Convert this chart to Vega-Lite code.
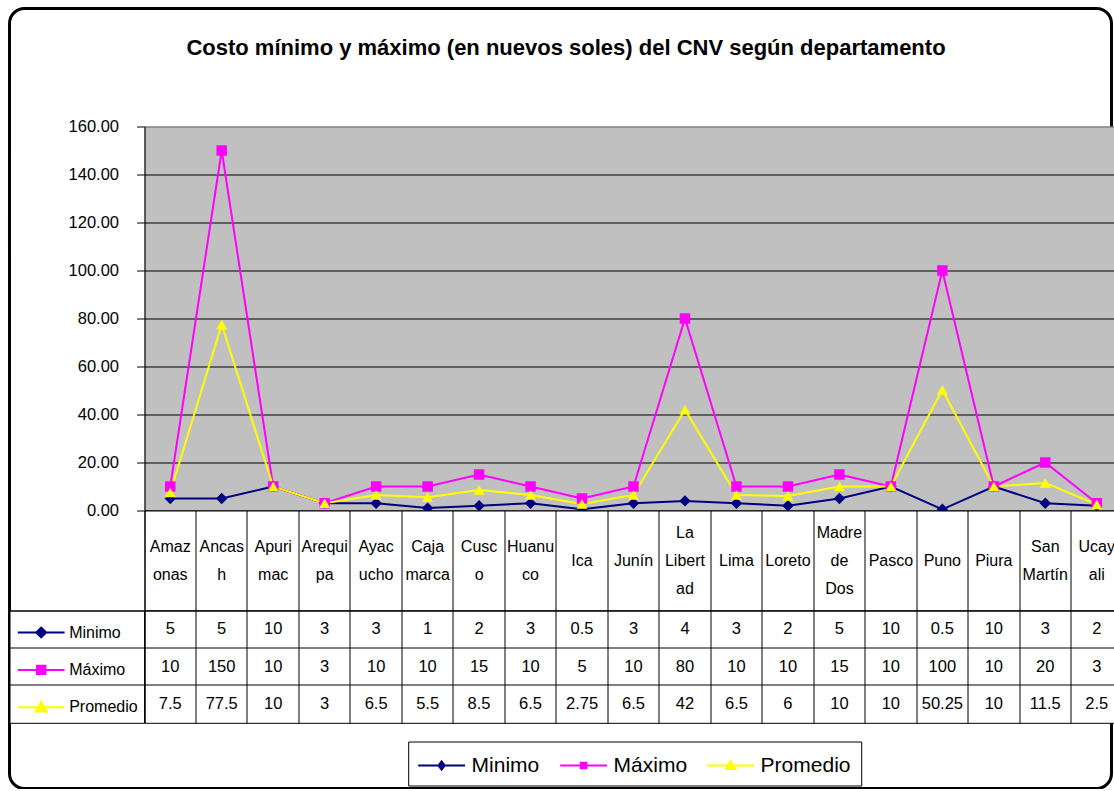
{
  "$schema": "https://vega.github.io/schema/vega-lite/v6.json",
  "background": "white",
  "padding": {"left": 8.5, "top": 8.5, "right": 0, "bottom": 0},
  "params": [
    {"name": "width", "value": 1102},
    {"name": "height", "value": 780}
  ],
  "title": {
    "text": "Costo mínimo y máximo (en nuevos soles) del CNV según departamento",
    "fontSize": 22, "fontWeight": "bold", "color": "black",
    "anchor": "middle", "baseline": "bottom", "offset": -73
  },
  "config": {
    "font": "Liberation Sans, Arial, sans-serif",
    "view": {"stroke": "black"},
    "group": {"stroke": "black", "strokeWidth": 3, "cornerRadius": 15}
  },
  "datasets": {
    "departamentos": [
      {"departamento": "Amazonas", "etiqueta": ["Amaz", "onas"]},
      {"departamento": "Ancash", "etiqueta": ["Ancas", "h"]},
      {"departamento": "Apurimac", "etiqueta": ["Apuri", "mac"]},
      {"departamento": "Arequipa", "etiqueta": ["Arequi", "pa"]},
      {"departamento": "Ayacucho", "etiqueta": ["Ayac", "ucho"]},
      {"departamento": "Cajamarca", "etiqueta": ["Caja", "marca"]},
      {"departamento": "Cusco", "etiqueta": ["Cusc", "o"]},
      {"departamento": "Huanuco", "etiqueta": ["Huanu", "co"]},
      {"departamento": "Ica", "etiqueta": ["Ica"]},
      {"departamento": "Junín", "etiqueta": ["Junín"]},
      {"departamento": "La Libertad", "etiqueta": ["La", "Libert", "ad"]},
      {"departamento": "Lima", "etiqueta": ["Lima"]},
      {"departamento": "Loreto", "etiqueta": ["Loreto"]},
      {"departamento": "Madre de Dos", "etiqueta": ["Madre", "de", "Dos"]},
      {"departamento": "Pasco", "etiqueta": ["Pasco"]},
      {"departamento": "Puno", "etiqueta": ["Puno"]},
      {"departamento": "Piura", "etiqueta": ["Piura"]},
      {"departamento": "San Martín", "etiqueta": ["San", "Martín"]},
      {"departamento": "Ucayali", "etiqueta": ["Ucay", "ali"]}
    ],
    "valores": [
      {"departamento": "Amazonas", "serie": "Minimo", "valor": 5},
      {"departamento": "Ancash", "serie": "Minimo", "valor": 5},
      {"departamento": "Apurimac", "serie": "Minimo", "valor": 10},
      {"departamento": "Arequipa", "serie": "Minimo", "valor": 3},
      {"departamento": "Ayacucho", "serie": "Minimo", "valor": 3},
      {"departamento": "Cajamarca", "serie": "Minimo", "valor": 1},
      {"departamento": "Cusco", "serie": "Minimo", "valor": 2},
      {"departamento": "Huanuco", "serie": "Minimo", "valor": 3},
      {"departamento": "Ica", "serie": "Minimo", "valor": 0.5},
      {"departamento": "Junín", "serie": "Minimo", "valor": 3},
      {"departamento": "La Libertad", "serie": "Minimo", "valor": 4},
      {"departamento": "Lima", "serie": "Minimo", "valor": 3},
      {"departamento": "Loreto", "serie": "Minimo", "valor": 2},
      {"departamento": "Madre de Dos", "serie": "Minimo", "valor": 5},
      {"departamento": "Pasco", "serie": "Minimo", "valor": 10},
      {"departamento": "Puno", "serie": "Minimo", "valor": 0.5},
      {"departamento": "Piura", "serie": "Minimo", "valor": 10},
      {"departamento": "San Martín", "serie": "Minimo", "valor": 3},
      {"departamento": "Ucayali", "serie": "Minimo", "valor": 2},
      {"departamento": "Amazonas", "serie": "Máximo", "valor": 10},
      {"departamento": "Ancash", "serie": "Máximo", "valor": 150},
      {"departamento": "Apurimac", "serie": "Máximo", "valor": 10},
      {"departamento": "Arequipa", "serie": "Máximo", "valor": 3},
      {"departamento": "Ayacucho", "serie": "Máximo", "valor": 10},
      {"departamento": "Cajamarca", "serie": "Máximo", "valor": 10},
      {"departamento": "Cusco", "serie": "Máximo", "valor": 15},
      {"departamento": "Huanuco", "serie": "Máximo", "valor": 10},
      {"departamento": "Ica", "serie": "Máximo", "valor": 5},
      {"departamento": "Junín", "serie": "Máximo", "valor": 10},
      {"departamento": "La Libertad", "serie": "Máximo", "valor": 80},
      {"departamento": "Lima", "serie": "Máximo", "valor": 10},
      {"departamento": "Loreto", "serie": "Máximo", "valor": 10},
      {"departamento": "Madre de Dos", "serie": "Máximo", "valor": 15},
      {"departamento": "Pasco", "serie": "Máximo", "valor": 10},
      {"departamento": "Puno", "serie": "Máximo", "valor": 100},
      {"departamento": "Piura", "serie": "Máximo", "valor": 10},
      {"departamento": "San Martín", "serie": "Máximo", "valor": 20},
      {"departamento": "Ucayali", "serie": "Máximo", "valor": 3},
      {"departamento": "Amazonas", "serie": "Promedio", "valor": 7.5},
      {"departamento": "Ancash", "serie": "Promedio", "valor": 77.5},
      {"departamento": "Apurimac", "serie": "Promedio", "valor": 10},
      {"departamento": "Arequipa", "serie": "Promedio", "valor": 3},
      {"departamento": "Ayacucho", "serie": "Promedio", "valor": 6.5},
      {"departamento": "Cajamarca", "serie": "Promedio", "valor": 5.5},
      {"departamento": "Cusco", "serie": "Promedio", "valor": 8.5},
      {"departamento": "Huanuco", "serie": "Promedio", "valor": 6.5},
      {"departamento": "Ica", "serie": "Promedio", "valor": 2.75},
      {"departamento": "Junín", "serie": "Promedio", "valor": 6.5},
      {"departamento": "La Libertad", "serie": "Promedio", "valor": 42},
      {"departamento": "Lima", "serie": "Promedio", "valor": 6.5},
      {"departamento": "Loreto", "serie": "Promedio", "valor": 6},
      {"departamento": "Madre de Dos", "serie": "Promedio", "valor": 10},
      {"departamento": "Pasco", "serie": "Promedio", "valor": 10},
      {"departamento": "Puno", "serie": "Promedio", "valor": 50.25},
      {"departamento": "Piura", "serie": "Promedio", "valor": 10},
      {"departamento": "San Martín", "serie": "Promedio", "valor": 11.5},
      {"departamento": "Ucayali", "serie": "Promedio", "valor": 2.5}
    ]
  },
  "columns": 2,
  "align": "each",
  "bounds": "flush",
  "spacing": 0,
  "resolve": {
    "scale": {"x": "independent", "y": "independent", "color": "independent", "shape": "independent"},
    "legend": {"color": "independent", "shape": "independent"}
  },
  "concat": [
    {
      "width": 134.6, "height": 117.7,
      "data": {"values": []},
      "view": {"stroke": null},
      "mark": {"type": "point", "opacity": 0}
    },
    {
      "width": 978, "height": 117.7,
      "data": {"values": []},
      "view": {"stroke": null},
      "mark": {"type": "point", "opacity": 0}
    },
    {
      "width": 134.6, "height": 384,
      "data": {"values": []},
      "view": {"stroke": null},
      "mark": {"type": "point", "opacity": 0}
    },
    {
      "width": 978,
      "height": 384,
      "data": {"name": "valores"},
      "view": {"fill": "#C0C0C0", "stroke": "#808080"},
      "encoding": {
        "x": {"field": "departamento", "type": "nominal", "sort": null,
              "scale": {"type": "band", "paddingInner": 0, "paddingOuter": 0}, "axis": null},
        "y": {"field": "valor", "type": "quantitative",
              "scale": {"domain": [0, 160], "nice": false},
              "axis": {"values": [0, 20, 40, 60, 80, 100, 120, 140, 160], "format": ".2f", "title": null,
                       "grid": true,
                       "gridColor": {"condition": {"test": "datum.value === 160", "value": "#808080"}, "value": "black"},
                       "gridOpacity": 1, "gridWidth": 1.2,
                       "tickSize": 8, "tickColor": "black", "domainColor": "black",
                       "labelFontSize": 16.5, "labelColor": "black", "labelPadding": 18}}
      },
      "layer": [
        {"mark": {"type": "line", "strokeWidth": 2},
         "encoding": {"color": {"field": "serie", "type": "nominal",
                  "scale": {"domain": ["Minimo", "Máximo", "Promedio"], "range": ["#000080", "#FF00FF", "#FFFF00"]}}}},
        {"transform": [{"filter": "datum.serie === 'Minimo'"}],
         "mark": {"type": "point", "shape": "diamond", "filled": true, "size": 130, "opacity": 1},
         "encoding": {"color": {"field": "serie", "type": "nominal"}}},
        {"transform": [{"filter": "datum.serie === 'Máximo'"}],
         "mark": {"type": "point", "shape": "square", "filled": true, "size": 110, "opacity": 1},
         "encoding": {"color": {"field": "serie", "type": "nominal"}}},
        {"transform": [{"filter": "datum.serie === 'Promedio'"}],
         "mark": {"type": "point", "shape": "triangle-up", "filled": true, "size": 120, "opacity": 1},
         "encoding": {"color": {"field": "serie", "type": "nominal"}}},
        {"mark": {"type": "point", "filled": false, "opacity": 0},
         "encoding": {
           "color": {"field": "serie", "type": "nominal",
                     "legend": {
                       "orient": "none", "legendX": 263.7, "legendY": 615, "direction": "horizontal",
                       "title": null, "strokeColor": "black", "padding": 10,
                       "labelFontSize": 21, "labelColor": "black", "labelLimit": 300,
                       "symbolSize": 676, "symbolStrokeWidth": 2, "symbolOpacity": 1,
                       "symbolOffset": 9.4, "labelOffset": 16, "columnPadding": 15
                     }},
           "shape": {"field": "serie", "type": "nominal",
                     "scale": {"domain": ["Minimo", "Máximo", "Promedio"],
                               "range": ["M-1.8,0H1.8M-0.24,0L0,-0.32L0.24,0L0,0.32ZM-0.14,0L0,-0.19L0.14,0L0,0.19ZM-0.04,0L0,-0.06L0.04,0L0,0.06Z",
                                         "M-1.8,0H1.8M-0.22,-0.22H0.22V0.22H-0.22ZM-0.1,-0.1H0.1V0.1H-0.1Z",
                                         "M-1.8,0H1.8M-0.36,0.26L0.36,0.26L0,-0.34ZM-0.216,0.18L0.216,0.18L0,-0.18ZM-0.072,0.1L0.072,0.1L0,-0.02Z"]}}
         }}
      ]
    },
    {
      "width": 134.6, "height": 100,
      "data": {"values": []},
      "view": {"stroke": null},
      "mark": {"type": "point", "opacity": 0}
    },
    {
      "width": 978,
      "height": 100,
      "data": {"name": "departamentos"},
      "view": {"stroke": "black", "fill": "white"},
      "mark": {"type": "text", "fontSize": 16, "lineHeight": 28, "baseline": "middle", "color": "black",
               "dy": {"expr": "-(length(datum.etiqueta) - 1) * 14"}},
      "encoding": {
        "x": {"field": "departamento", "type": "nominal", "sort": null,
              "scale": {"type": "band", "paddingInner": 0, "paddingOuter": 0},
              "axis": {"grid": true, "gridColor": "black", "gridOpacity": 1, "bandPosition": 0,
                       "labels": false, "ticks": false, "domain": false, "title": null}},
        "text": {"field": "etiqueta", "type": "nominal"}
      }
    },
    {
      "width": 134.6,
      "height": 112.3,
      "data": {"name": "valores"},
      "view": {"stroke": "black", "fill": "white"},
      "encoding": {
        "y": {"field": "serie", "type": "nominal", "sort": ["Minimo", "Máximo", "Promedio"],
              "scale": {"type": "band", "paddingInner": 0, "paddingOuter": 0},
              "axis": {"grid": true, "gridColor": "black", "gridOpacity": 1, "bandPosition": 0,
                       "labels": false, "ticks": false, "domain": false, "title": null}}
      },
      "layer": [
        {"mark": {"type": "point", "filled": false, "opacity": 0},
         "encoding": {
           "color": {"field": "serie", "type": "nominal",
                     "scale": {"domain": ["Minimo", "Máximo", "Promedio"], "range": ["#000080", "#FF00FF", "#FFFF00"]},
                     "legend": {
                       "orient": "none", "legendX": 8.3, "legendY": 8, "direction": "vertical",
                       "title": null, "padding": 0,
                       "labelFontSize": 16, "labelColor": "black",
                       "symbolSize": 676, "symbolStrokeWidth": 2, "symbolOpacity": 1,
                       "symbolOffset": 9.4, "labelOffset": 14, "rowPadding": 14.4
                     }},
           "shape": {"field": "serie", "type": "nominal",
                     "scale": {"domain": ["Minimo", "Máximo", "Promedio"],
                               "range": ["M-1.8,0H1.8M-0.38,0L0,-0.38L0.38,0L0,0.38ZM-0.26,0L0,-0.26L0.26,0L0,0.26ZM-0.14,0L0,-0.14L0.14,0L0,0.14ZM-0.03,0L0,-0.03L0.03,0L0,0.03Z",
                                         "M-1.8,0H1.8M-0.32,-0.32H0.32V0.32H-0.32ZM-0.2,-0.2H0.2V0.2H-0.2ZM-0.08,-0.08H0.08V0.08H-0.08Z",
                                         "M-1.8,0H1.8M-0.42,0.32L0.42,0.32L0,-0.4ZM-0.294,0.248L0.294,0.248L0,-0.256ZM-0.168,0.176L0.168,0.176L0,-0.112ZM-0.042,0.104L0.042,0.104L0,0.032Z"]}}
         }}
      ]
    },
    {
      "width": 978,
      "height": 112.3,
      "data": {"name": "valores"},
      "view": {"stroke": "black", "fill": "white"},
      "mark": {"type": "text", "fontSize": 16.5, "color": "black"},
      "encoding": {
        "x": {"field": "departamento", "type": "nominal", "sort": null,
              "scale": {"type": "band", "paddingInner": 0, "paddingOuter": 0},
              "axis": {"grid": true, "gridColor": "black", "gridOpacity": 1, "bandPosition": 0,
                       "labels": false, "ticks": false, "domain": false, "title": null}},
        "y": {"field": "serie", "type": "nominal", "sort": ["Minimo", "Máximo", "Promedio"],
              "scale": {"type": "band", "paddingInner": 0, "paddingOuter": 0},
              "axis": {"grid": true, "gridColor": "black", "gridOpacity": 1, "bandPosition": 0,
                       "labels": false, "ticks": false, "domain": false, "title": null}},
        "text": {"field": "valor", "type": "quantitative"}
      }
    }
  ]
}
